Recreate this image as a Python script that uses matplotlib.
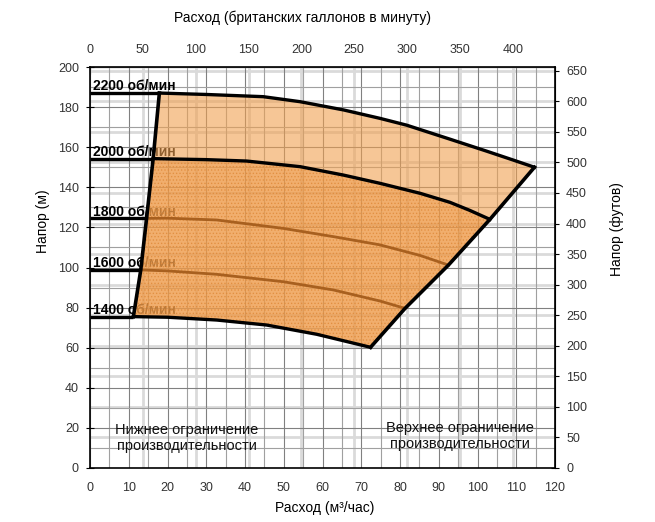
import numpy as np
import matplotlib
matplotlib.use("Agg")
import matplotlib.pyplot as plt
from matplotlib.ticker import MultipleLocator

plt.rcParams['font.family'] = ['Liberation Sans', 'DejaVu Sans']
plt.rcParams['hatch.linewidth'] = 0.6

# speed labels
speeds = ["2200", "2000", "1800", "1600", "1400"]

# head curves, flow in m3/h, head in m
q_2200 = [17.9, 30, 44.7, 54.2, 65.4, 74.8, 81.7, 92.9, 102.4, 109.2, 114.7]
h_2200 = [187.0, 186.3, 185.2, 182.7, 178.6, 174.4, 171.0, 164.0, 158.0, 153.6, 150.0]
q_2000 = [16.3, 30, 40.4, 54.2, 65.4, 74.8, 85.2, 92.9, 98, 103.2]
h_2000 = [154.3, 153.8, 153.1, 150.3, 146.1, 142.0, 137.0, 132.5, 128.5, 124.0]
q_1800 = [14.6, 20, 32.7, 49.9, 62.8, 74.8, 85.2, 92.5]
h_1800 = [124.5, 124.6, 123.7, 119.5, 115.4, 111.3, 106.0, 101.2]
q_1600 = [13.1, 20, 32.7, 49.9, 62.8, 74.8, 81.3]
h_1600 = [98.8, 98.3, 96.6, 92.9, 88.8, 83.3, 79.6]
q_1400 = [11.2, 20, 32.7, 45.6, 58.5, 72.4]
h_1400 = [75.5, 75.2, 73.8, 71.3, 66.7, 60.2]

# operating limits
q_left = [11.2, 13.1, 14.6, 16.3, 17.9]
h_left = [75.5, 98.8, 124.5, 154.3, 187.0]
q_right = [72.4, 81.3, 92.5, 103.2, 114.7]
h_right = [60.2, 79.6, 101.2, 124.0, 150.0]

gpm_ticks = list(range(0, 401, 50))
ft_ticks = list(range(0, 651, 50))

M3H_TO_GPM = 1000 / 4.54609 / 60
M_TO_FT = 1 / 0.3048

fig = plt.figure(figsize=(6.55, 5.22), dpi=100)
ax = fig.add_axes([90 / 655, 54 / 522, 465 / 655, 401 / 522])
ax.set_xlim(0, 120)
ax.set_ylim(0, 200)

# grid
ax.xaxis.set_major_locator(MultipleLocator(10))
ax.xaxis.set_minor_locator(MultipleLocator(5))
ax.yaxis.set_major_locator(MultipleLocator(20))
ax.yaxis.set_minor_locator(MultipleLocator(10))
ax.grid(which='major', color='#808080', lw=0.8, zorder=0)
ax.grid(which='minor', color='#a0a0a0', lw=0.8, zorder=0)
for g in gpm_ticks[1:]:
    ax.axvline(g / M3H_TO_GPM, color='#dadada', lw=2, zorder=0.5)
for f in ft_ticks[1:]:
    ax.axhline(f / M_TO_FT, color='#dadada', lw=2, zorder=0.5)
ax.set_axisbelow(True)

curves = [(q_2200, h_2200), (q_2000, h_2000), (q_1800, h_1800),
          (q_1600, h_1600), (q_1400, h_1400)]

# horizontal lines from the axis to the lower limit + speed labels
for s, (q, h) in zip(speeds, curves):
    ax.plot([0, q[0]], [h[0], h[0]], color='black', lw=2.4, zorder=4,
            solid_capstyle='butt')
    ax.text(0.8, h[0] + 1.4, s + " об/мин", fontsize=10, fontweight='bold',
            ha='left', va='baseline', zorder=1)

# upper band (2000 - 2200)
up_q = q_2200 + q_right[3:][::-1] + q_2000[::-1] + q_left[3:]
up_h = h_2200 + h_right[3:][::-1] + h_2000[::-1] + h_left[3:]
ax.fill(up_q, up_h, facecolor='#f0a050', alpha=0.6, edgecolor='none', zorder=2)

# lower band (1400 - 2000)
lo_q = q_2000 + q_right[:4][::-1] + q_1400[::-1] + q_left[:4]
lo_h = h_2000 + h_right[:4][::-1] + h_1400[::-1] + h_left[:4]
ax.fill(lo_q, lo_h, facecolor='#ee9a48', alpha=0.8, edgecolor='#e08a3a',
        hatch='.....', lw=0, zorder=2)

# curves
ax.plot(q_2200, h_2200, color='black', lw=2.4, zorder=4)
ax.plot(q_2000, h_2000, color='black', lw=2.4, zorder=4)
ax.plot(q_1800, h_1800, color='#a8601f', lw=2, zorder=3)
ax.plot(q_1600, h_1600, color='#a8601f', lw=2, zorder=3)
ax.plot(q_1400, h_1400, color='black', lw=2.4, zorder=4)
ax.plot(q_left, h_left, color='black', lw=2.6, zorder=4)
ax.plot(q_right, h_right, color='black', lw=2.6, zorder=4)

ax.text(25, 14.8, "Нижнее ограничение\nпроизводительности", fontsize=10.5,
        ha='center', va='center', multialignment='center', color='#111111', zorder=5)
ax.text(95.5, 16, "Верхнее ограничение\nпроизводительности", fontsize=10.5,
        ha='center', va='center', multialignment='center', color='#111111', zorder=5)

# axes styling
for sp in ax.spines.values():
    sp.set_linewidth(1.2)
ax.tick_params(axis='both', which='major', labelsize=9, labelcolor='#333333')
ax.tick_params(axis='y', which='major', direction='inout', length=6, pad=5)
ax.tick_params(axis='x', which='major', direction='in', length=0, pad=10)
ax.tick_params(which='minor', length=0)

top = ax.secondary_xaxis('top', functions=(lambda q: q * M3H_TO_GPM,
                                           lambda g: g / M3H_TO_GPM))
top.set_xticks(gpm_ticks)
top.tick_params(labelsize=9, labelcolor='#333333', direction='in', length=5, pad=8)

right = ax.secondary_yaxis('right', functions=(lambda m: m * M_TO_FT,
                                               lambda f: f / M_TO_FT))
right.set_yticks(ft_ticks)
right.tick_params(labelsize=9, labelcolor='#333333', direction='inout', length=6, pad=5)

fig.text(42.7 / 655, 1 - 221.5 / 522, "Напор (м)", rotation=90, fontsize=10,
         ha='center', va='center')
fig.text(616.7 / 655, 1 - 229 / 522, "Напор (футов)", rotation=90, fontsize=10,
         ha='center', va='center')
fig.text(325 / 655, 1 - 508 / 522, "Расход (м³/час)", fontsize=10,
         ha='center', va='center')
fig.text(302 / 655, 1 - 18 / 522, "Расход (британских галлонов в минуту)",
         fontsize=10, ha='center', va='center')

fig.savefig("out.png", dpi=100)
